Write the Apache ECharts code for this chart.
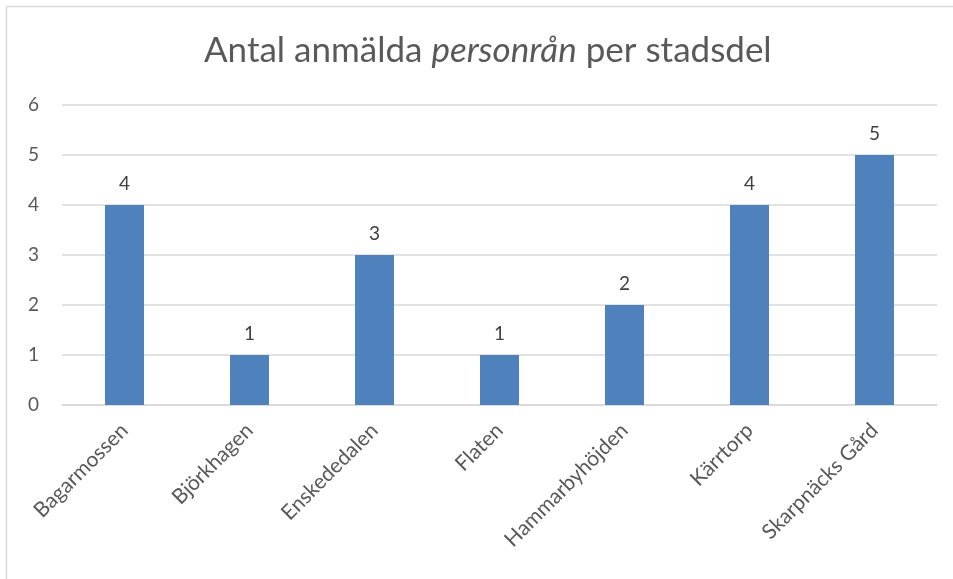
<!DOCTYPE html>
<html>
<head>
<meta charset="utf-8">
<script src="https://cdn.jsdelivr.net/npm/echarts@6/dist/echarts.min.js"></script>
<style>
  html, body { margin: 0; padding: 0; background: #fff; }
  #chart { width: 953px; height: 579px; }
</style>
</head>
<body>
<div id="chart"></div>
<script>
// data
var stadsdelar = ['Bagarmossen', 'Björkhagen', 'Enskededalen', 'Flaten', 'Hammarbyhöjden', 'Kärrtorp', 'Skarpnäcks Gård'];
var antal = [4, 1, 3, 1, 2, 4, 5];
var yTicks = [0, 1, 2, 3, 4, 5, 6];

var textGray = '#595959';
var font = 'Lato, "Open Sans", sans-serif';

var chart = echarts.init(document.getElementById('chart'), null, { renderer: 'canvas' });

var option = {
  animation: false,
  backgroundColor: '#fff',
  textStyle: { fontFamily: font },
  title: {
    left: 199,
    top: 28,
    text: '{a|Antal anmälda }{b|personrån}{a| per stadsdel}',
    textStyle: {
      fontWeight: 'normal',
      rich: {
        a: { fontSize: 35, color: textGray, fontFamily: font, fontWeight: 'normal' },
        b: { fontSize: 35, color: textGray, fontFamily: font, fontWeight: 'normal', fontStyle: 'italic' }
      }
    }
  },
  graphic: [{
    type: 'rect',
    silent: true,
    shape: { x: 6.5, y: 6.5, width: 1000, height: 1000 },
    style: { fill: 'none', stroke: '#d9d9d9', lineWidth: 1.5 }
  }],
  grid: { left: 62, right: 16, top: 105, bottom: 174 },
  xAxis: {
    type: 'category',
    data: stadsdelar,
    axisLine: { lineStyle: { color: '#d9d9d9', width: 1.5 } },
    axisTick: { show: false },
    axisLabel: {
      rotate: 45,
      color: textGray,
      fontSize: 21,
      margin: 22,
      interval: 0
    }
  },
  yAxis: {
    type: 'value',
    min: yTicks[0],
    max: yTicks[yTicks.length - 1],
    interval: 1,
    axisLine: { show: false },
    axisTick: { show: false },
    axisLabel: { color: textGray, fontSize: 19, margin: 23 },
    splitLine: { lineStyle: { color: '#d9d9d9', width: 1.5 } }
  },
  series: [{
    type: 'bar',
    data: antal,
    barWidth: 39,
    itemStyle: { color: '#4f81bd' },
    label: {
      show: true,
      position: 'top',
      distance: 12,
      color: '#404040',
      fontSize: 19
    }
  }]
};

chart.setOption(option);
</script>
</body>
</html>
